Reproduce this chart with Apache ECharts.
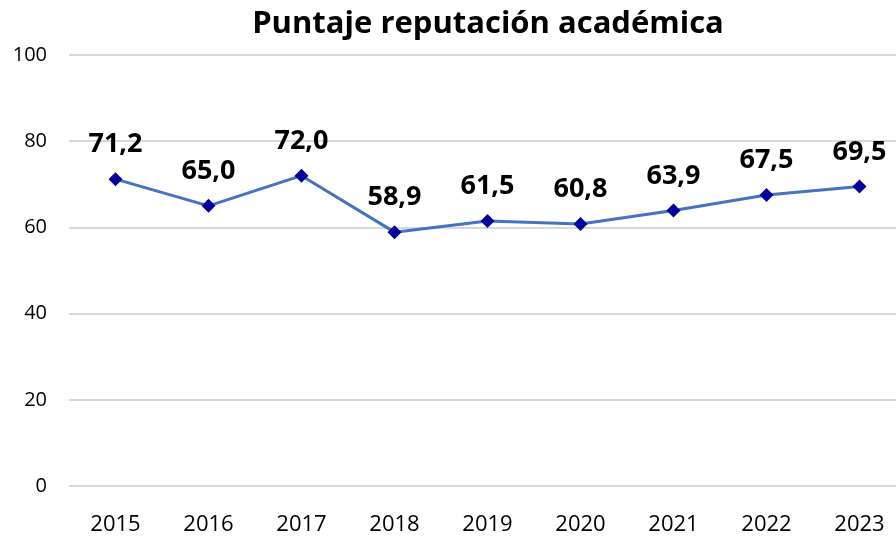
<!DOCTYPE html>
<html>
<head>
<meta charset="utf-8">
<script src="https://cdn.jsdelivr.net/npm/echarts@6/dist/echarts.min.js"></script>
<style>
  html, body { margin: 0; padding: 0; background: #fff; }
  #chart { width: 896px; height: 537px; }
</style>
</head>
<body>
<div id="chart"></div>
<script>
var years = ['2015', '2016', '2017', '2018', '2019', '2020', '2021', '2022', '2023']
var scores = [71.2, 65.0, 72.0, 58.9, 61.5, 60.8, 63.9, 67.5, 69.5]
var yTicks = [0, 20, 40, 60, 80, 100]

var myChart = echarts.init(document.getElementById('chart'))
var fontFam = 'Open Sans, Liberation Sans, sans-serif'

var option = {
  backgroundColor: '#fff',
  animation: false,
  title: {
    text: 'Puntaje reputación académica',
    left: 483,
    top: 4,
    textAlign: 'center',
    textStyle: { fontSize: 31, fontWeight: 'bold', color: '#000', fontFamily: fontFam }
  },
  grid: { left: 69, top: 55, width: 837, height: 431, outerBoundsMode: 'none' },
  xAxis: {
    type: 'category',
    data: years,
    boundaryGap: true,
    axisLine: { show: false },
    axisTick: { show: false },
    axisLabel: { color: '#000', fontSize: 22, margin: 28, fontFamily: fontFam }
  },
  yAxis: {
    type: 'value',
    min: yTicks[0],
    max: yTicks[yTicks.length - 1],
    interval: 20,
    axisLine: { show: false },
    axisTick: { show: false },
    splitLine: { lineStyle: { color: '#d9d9d9', width: 2 } },
    axisLabel: { color: '#000', fontSize: 20, margin: 22, fontFamily: fontFam }
  },
  series: [
    {
      type: 'line',
      data: scores,
      symbol: 'diamond',
      symbolSize: 14,
      lineStyle: { color: '#4472c4', width: 3 },
      itemStyle: { color: '#000099' },
      label: {
        show: true,
        position: 'top',
        distance: 14,
        color: '#000',
        fontSize: 27,
        fontWeight: 'bold',
        fontFamily: fontFam,
        formatter: function (p) { return p.value.toFixed(1).replace('.', ',') }
      }
    }
  ]
}
myChart.setOption(option)
</script>
</body>
</html>
